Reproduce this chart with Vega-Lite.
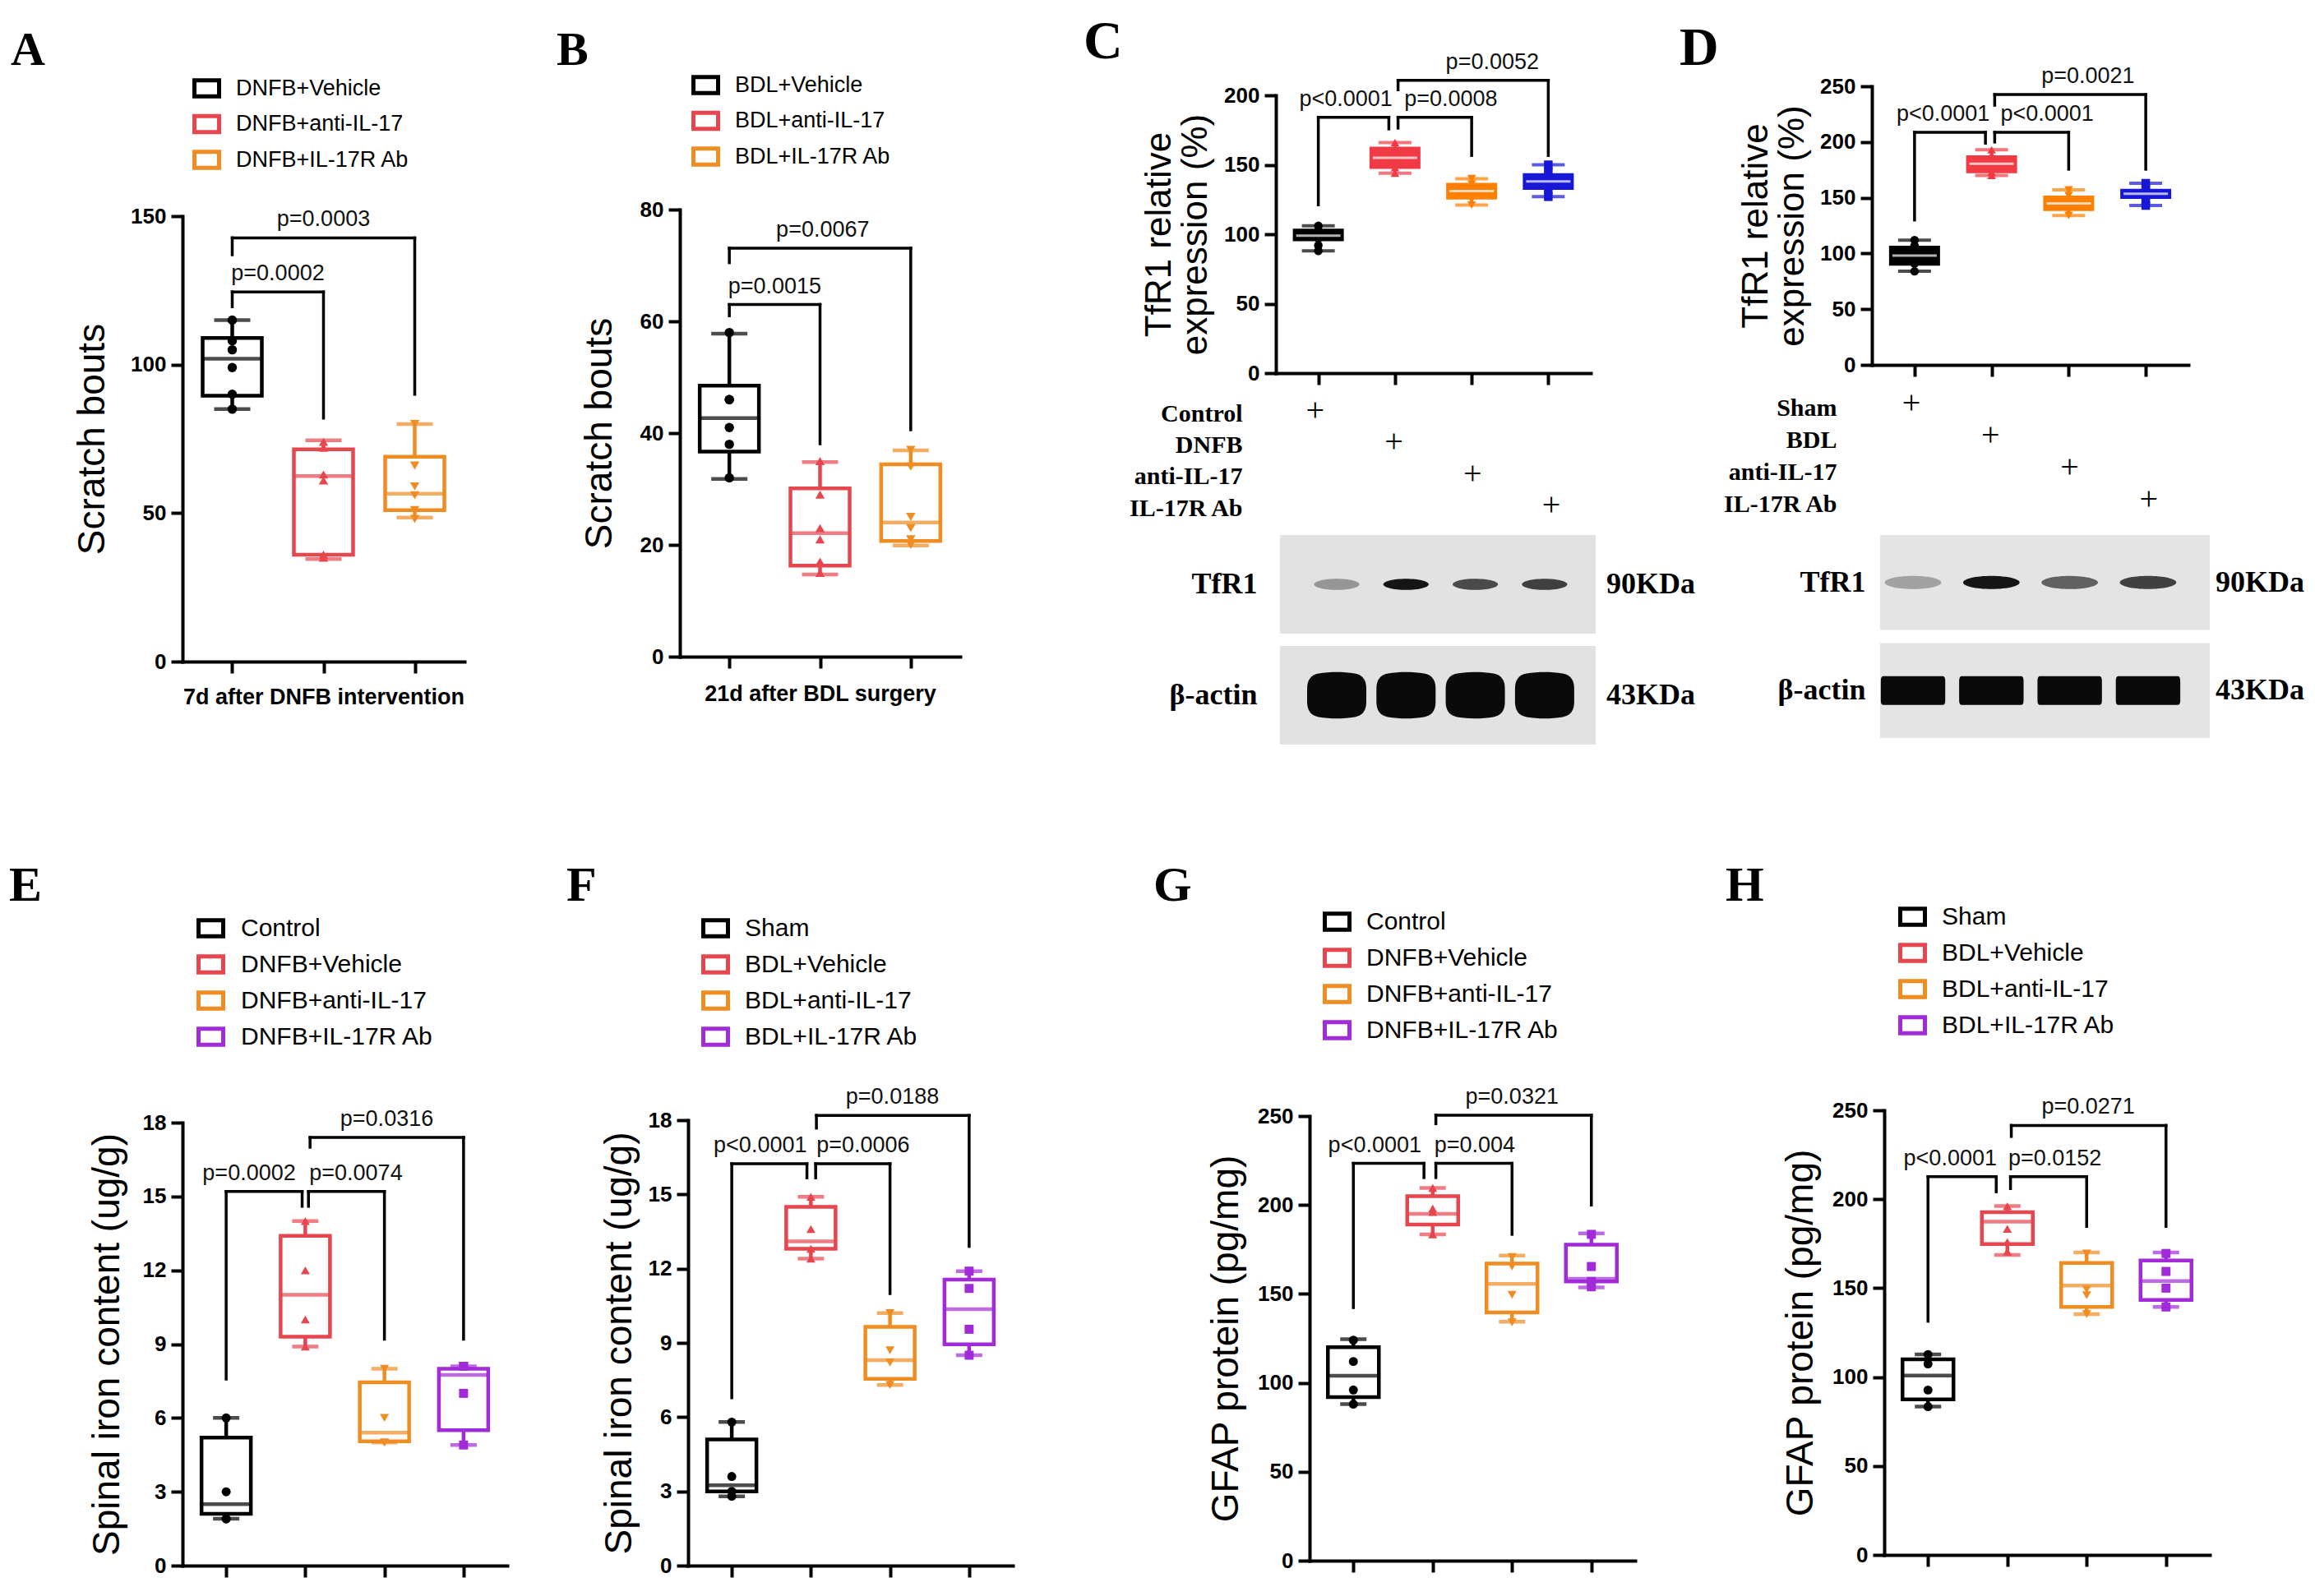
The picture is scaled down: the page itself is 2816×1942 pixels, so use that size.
{
"$schema":"https://vega.github.io/schema/vega-lite/v6.json",
"background":"white",
"padding":{"left":11,"top":17,"right":8,"bottom":8},
"autosize":{"type":"pad"},
"datasets":{
"boxes":[
{"panel":"A","group":"DNFB+Vehicle","idx":1,"min":85,"q1":89.5,"median":102,"q3":109,"max":115},
{"panel":"A","group":"DNFB+anti-IL-17","idx":2,"min":34.5,"q1":36,"median":62.5,"q3":71.5,"max":74.5},
{"panel":"A","group":"DNFB+IL-17R Ab","idx":3,"min":48.5,"q1":51,"median":56.5,"q3":69,"max":80},
{"panel":"B","group":"BDL+Vehicle","idx":1,"min":31.8,"q1":36.7,"median":42.7,"q3":48.5,"max":57.8},
{"panel":"B","group":"BDL+anti-IL-17","idx":2,"min":14.7,"q1":16.3,"median":22.1,"q3":30.1,"max":34.8},
{"panel":"B","group":"BDL+IL-17R Ab","idx":3,"min":19.9,"q1":20.7,"median":24,"q3":34.4,"max":36.9},
{"panel":"C","group":"Control","idx":1,"min":88,"q1":95,"median":99,"q3":104,"max":106},
{"panel":"C","group":"DNFB","idx":2,"min":144,"q1":147,"median":155,"q3":163,"max":166},
{"panel":"C","group":"anti-IL-17","idx":3,"min":121,"q1":125,"median":131,"q3":137,"max":140},
{"panel":"C","group":"IL-17R Ab","idx":4,"min":127,"q1":132,"median":138,"q3":144,"max":150},
{"panel":"D","group":"Sham","idx":1,"min":84,"q1":89,"median":98,"q3":107,"max":112},
{"panel":"D","group":"BDL","idx":2,"min":170,"q1":172,"median":180.5,"q3":188,"max":193},
{"panel":"D","group":"anti-IL-17","idx":3,"min":134,"q1":138,"median":145,"q3":152,"max":157},
{"panel":"D","group":"IL-17R Ab","idx":4,"min":143,"q1":149,"median":153.5,"q3":158,"max":163},
{"panel":"E","group":"Control","idx":1,"min":1.9,"q1":2.1,"median":2.5,"q3":5.2,"max":6},
{"panel":"E","group":"DNFB+Vehicle","idx":2,"min":8.9,"q1":9.3,"median":11,"q3":13.4,"max":14},
{"panel":"E","group":"DNFB+anti-IL-17","idx":3,"min":5,"q1":5.05,"median":5.4,"q3":7.45,"max":8},
{"panel":"E","group":"DNFB+IL-17R Ab","idx":4,"min":4.9,"q1":5.5,"median":7.75,"q3":8,"max":8.1},
{"panel":"F","group":"Sham","idx":1,"min":2.8,"q1":3,"median":3.25,"q3":5.1,"max":5.8},
{"panel":"F","group":"BDL+Vehicle","idx":2,"min":12.4,"q1":12.8,"median":13.1,"q3":14.5,"max":14.9},
{"panel":"F","group":"BDL+anti-IL-17","idx":3,"min":7.3,"q1":7.55,"median":8.3,"q3":9.65,"max":10.2},
{"panel":"F","group":"BDL+IL-17R Ab","idx":4,"min":8.5,"q1":8.94,"median":10.36,"q3":11.56,"max":11.9},
{"panel":"G","group":"Control","idx":1,"min":88,"q1":92,"median":104,"q3":120,"max":124.5},
{"panel":"G","group":"DNFB+Vehicle","idx":2,"min":183.5,"q1":189,"median":195,"q3":205,"max":209.6},
{"panel":"G","group":"DNFB+anti-IL-17","idx":3,"min":134.3,"q1":139.6,"median":155.6,"q3":167,"max":171.5},
{"panel":"G","group":"DNFB+IL-17R Ab","idx":4,"min":153.7,"q1":157,"median":158.5,"q3":177.7,"max":184},
{"panel":"H","group":"Sham","idx":1,"min":83.4,"q1":87.4,"median":100.8,"q3":110,"max":112.7},
{"panel":"H","group":"BDL+Vehicle","idx":2,"min":168.7,"q1":174.8,"median":187.4,"q3":192.7,"max":196.2},
{"panel":"H","group":"BDL+anti-IL-17","idx":3,"min":135.4,"q1":139.4,"median":151.4,"q3":164.2,"max":170},
{"panel":"H","group":"BDL+IL-17R Ab","idx":4,"min":139.4,"q1":143.4,"median":154,"q3":165.5,"max":170}
],
"points":[
{"panel":"A","group":"DNFB+Vehicle","idx":1,"value":115},{"panel":"A","group":"DNFB+Vehicle","idx":1,"value":108},{"panel":"A","group":"DNFB+Vehicle","idx":1,"value":105},{"panel":"A","group":"DNFB+Vehicle","idx":1,"value":99},{"panel":"A","group":"DNFB+Vehicle","idx":1,"value":90},{"panel":"A","group":"DNFB+Vehicle","idx":1,"value":85},
{"panel":"A","group":"DNFB+anti-IL-17","idx":2,"value":74},{"panel":"A","group":"DNFB+anti-IL-17","idx":2,"value":72},{"panel":"A","group":"DNFB+anti-IL-17","idx":2,"value":63},{"panel":"A","group":"DNFB+anti-IL-17","idx":2,"value":61},{"panel":"A","group":"DNFB+anti-IL-17","idx":2,"value":36},{"panel":"A","group":"DNFB+anti-IL-17","idx":2,"value":35},
{"panel":"A","group":"DNFB+IL-17R Ab","idx":3,"value":80},{"panel":"A","group":"DNFB+IL-17R Ab","idx":3,"value":66},{"panel":"A","group":"DNFB+IL-17R Ab","idx":3,"value":59},{"panel":"A","group":"DNFB+IL-17R Ab","idx":3,"value":56},{"panel":"A","group":"DNFB+IL-17R Ab","idx":3,"value":51},{"panel":"A","group":"DNFB+IL-17R Ab","idx":3,"value":48},
{"panel":"B","group":"BDL+Vehicle","idx":1,"value":58},{"panel":"B","group":"BDL+Vehicle","idx":1,"value":46},{"panel":"B","group":"BDL+Vehicle","idx":1,"value":46},{"panel":"B","group":"BDL+Vehicle","idx":1,"value":41},{"panel":"B","group":"BDL+Vehicle","idx":1,"value":38},{"panel":"B","group":"BDL+Vehicle","idx":1,"value":32},
{"panel":"B","group":"BDL+anti-IL-17","idx":2,"value":35},{"panel":"B","group":"BDL+anti-IL-17","idx":2,"value":29},{"panel":"B","group":"BDL+anti-IL-17","idx":2,"value":23},{"panel":"B","group":"BDL+anti-IL-17","idx":2,"value":21},{"panel":"B","group":"BDL+anti-IL-17","idx":2,"value":17},{"panel":"B","group":"BDL+anti-IL-17","idx":2,"value":15},
{"panel":"B","group":"BDL+IL-17R Ab","idx":3,"value":37},{"panel":"B","group":"BDL+IL-17R Ab","idx":3,"value":34},{"panel":"B","group":"BDL+IL-17R Ab","idx":3,"value":25},{"panel":"B","group":"BDL+IL-17R Ab","idx":3,"value":23},{"panel":"B","group":"BDL+IL-17R Ab","idx":3,"value":21},{"panel":"B","group":"BDL+IL-17R Ab","idx":3,"value":20},
{"panel":"C","group":"Control","idx":1,"value":106},{"panel":"C","group":"Control","idx":1,"value":103},{"panel":"C","group":"Control","idx":1,"value":100},{"panel":"C","group":"Control","idx":1,"value":97},{"panel":"C","group":"Control","idx":1,"value":92},{"panel":"C","group":"Control","idx":1,"value":88},
{"panel":"C","group":"DNFB","idx":2,"value":166},{"panel":"C","group":"DNFB","idx":2,"value":162},{"panel":"C","group":"DNFB","idx":2,"value":157},{"panel":"C","group":"DNFB","idx":2,"value":153},{"panel":"C","group":"DNFB","idx":2,"value":148},{"panel":"C","group":"DNFB","idx":2,"value":144},
{"panel":"C","group":"anti-IL-17","idx":3,"value":140},{"panel":"C","group":"anti-IL-17","idx":3,"value":136},{"panel":"C","group":"anti-IL-17","idx":3,"value":132},{"panel":"C","group":"anti-IL-17","idx":3,"value":129},{"panel":"C","group":"anti-IL-17","idx":3,"value":125},{"panel":"C","group":"anti-IL-17","idx":3,"value":121},
{"panel":"C","group":"IL-17R Ab","idx":4,"value":150},{"panel":"C","group":"IL-17R Ab","idx":4,"value":145},{"panel":"C","group":"IL-17R Ab","idx":4,"value":140},{"panel":"C","group":"IL-17R Ab","idx":4,"value":136},{"panel":"C","group":"IL-17R Ab","idx":4,"value":132},{"panel":"C","group":"IL-17R Ab","idx":4,"value":127},
{"panel":"D","group":"Sham","idx":1,"value":112},{"panel":"D","group":"Sham","idx":1,"value":107},{"panel":"D","group":"Sham","idx":1,"value":101},{"panel":"D","group":"Sham","idx":1,"value":97},{"panel":"D","group":"Sham","idx":1,"value":91},{"panel":"D","group":"Sham","idx":1,"value":84},
{"panel":"D","group":"BDL","idx":2,"value":193},{"panel":"D","group":"BDL","idx":2,"value":188},{"panel":"D","group":"BDL","idx":2,"value":183},{"panel":"D","group":"BDL","idx":2,"value":178},{"panel":"D","group":"BDL","idx":2,"value":173},{"panel":"D","group":"BDL","idx":2,"value":170},
{"panel":"D","group":"anti-IL-17","idx":3,"value":157},{"panel":"D","group":"anti-IL-17","idx":3,"value":152},{"panel":"D","group":"anti-IL-17","idx":3,"value":147},{"panel":"D","group":"anti-IL-17","idx":3,"value":143},{"panel":"D","group":"anti-IL-17","idx":3,"value":138},{"panel":"D","group":"anti-IL-17","idx":3,"value":134},
{"panel":"D","group":"IL-17R Ab","idx":4,"value":163},{"panel":"D","group":"IL-17R Ab","idx":4,"value":158},{"panel":"D","group":"IL-17R Ab","idx":4,"value":155},{"panel":"D","group":"IL-17R Ab","idx":4,"value":152},{"panel":"D","group":"IL-17R Ab","idx":4,"value":148},{"panel":"D","group":"IL-17R Ab","idx":4,"value":143},
{"panel":"E","group":"Control","idx":1,"value":6},{"panel":"E","group":"Control","idx":1,"value":3},{"panel":"E","group":"Control","idx":1,"value":1.9},{"panel":"E","group":"Control","idx":1,"value":1.9},
{"panel":"E","group":"DNFB+Vehicle","idx":2,"value":14},{"panel":"E","group":"DNFB+Vehicle","idx":2,"value":12},{"panel":"E","group":"DNFB+Vehicle","idx":2,"value":10},{"panel":"E","group":"DNFB+Vehicle","idx":2,"value":8.9},
{"panel":"E","group":"DNFB+anti-IL-17","idx":3,"value":8},{"panel":"E","group":"DNFB+anti-IL-17","idx":3,"value":6},{"panel":"E","group":"DNFB+anti-IL-17","idx":3,"value":5},{"panel":"E","group":"DNFB+anti-IL-17","idx":3,"value":5},
{"panel":"E","group":"DNFB+IL-17R Ab","idx":4,"value":8.1},{"panel":"E","group":"DNFB+IL-17R Ab","idx":4,"value":8.1},{"panel":"E","group":"DNFB+IL-17R Ab","idx":4,"value":7},{"panel":"E","group":"DNFB+IL-17R Ab","idx":4,"value":4.9},
{"panel":"F","group":"Sham","idx":1,"value":5.8},{"panel":"F","group":"Sham","idx":1,"value":3.6},{"panel":"F","group":"Sham","idx":1,"value":3},{"panel":"F","group":"Sham","idx":1,"value":2.8},
{"panel":"F","group":"BDL+Vehicle","idx":2,"value":14.9},{"panel":"F","group":"BDL+Vehicle","idx":2,"value":13.6},{"panel":"F","group":"BDL+Vehicle","idx":2,"value":12.8},{"panel":"F","group":"BDL+Vehicle","idx":2,"value":12.4},
{"panel":"F","group":"BDL+anti-IL-17","idx":3,"value":10.2},{"panel":"F","group":"BDL+anti-IL-17","idx":3,"value":8.7},{"panel":"F","group":"BDL+anti-IL-17","idx":3,"value":8.2},{"panel":"F","group":"BDL+anti-IL-17","idx":3,"value":7.3},
{"panel":"F","group":"BDL+IL-17R Ab","idx":4,"value":11.9},{"panel":"F","group":"BDL+IL-17R Ab","idx":4,"value":11.2},{"panel":"F","group":"BDL+IL-17R Ab","idx":4,"value":9.55},{"panel":"F","group":"BDL+IL-17R Ab","idx":4,"value":8.5},
{"panel":"G","group":"Control","idx":1,"value":124},{"panel":"G","group":"Control","idx":1,"value":112},{"panel":"G","group":"Control","idx":1,"value":96},{"panel":"G","group":"Control","idx":1,"value":88},
{"panel":"G","group":"DNFB+Vehicle","idx":2,"value":209.6},{"panel":"G","group":"DNFB+Vehicle","idx":2,"value":198},{"panel":"G","group":"DNFB+Vehicle","idx":2,"value":196},{"panel":"G","group":"DNFB+Vehicle","idx":2,"value":183.5},
{"panel":"G","group":"DNFB+anti-IL-17","idx":3,"value":170.7},{"panel":"G","group":"DNFB+anti-IL-17","idx":3,"value":165.4},{"panel":"G","group":"DNFB+anti-IL-17","idx":3,"value":149.5},{"panel":"G","group":"DNFB+anti-IL-17","idx":3,"value":134},
{"panel":"G","group":"DNFB+IL-17R Ab","idx":4,"value":183.5},{"panel":"G","group":"DNFB+IL-17R Ab","idx":4,"value":165.4},{"panel":"G","group":"DNFB+IL-17R Ab","idx":4,"value":157},{"panel":"G","group":"DNFB+IL-17R Ab","idx":4,"value":154},
{"panel":"H","group":"Sham","idx":1,"value":112.7},{"panel":"H","group":"Sham","idx":1,"value":107.4},{"panel":"H","group":"Sham","idx":1,"value":92.7},{"panel":"H","group":"Sham","idx":1,"value":83.4},
{"panel":"H","group":"BDL+Vehicle","idx":2,"value":196},{"panel":"H","group":"BDL+Vehicle","idx":2,"value":183.3},{"panel":"H","group":"BDL+Vehicle","idx":2,"value":176},{"panel":"H","group":"BDL+Vehicle","idx":2,"value":170.5},
{"panel":"H","group":"BDL+anti-IL-17","idx":3,"value":169.5},{"panel":"H","group":"BDL+anti-IL-17","idx":3,"value":149.3},{"panel":"H","group":"BDL+anti-IL-17","idx":3,"value":146},{"panel":"H","group":"BDL+anti-IL-17","idx":3,"value":135.4},
{"panel":"H","group":"BDL+IL-17R Ab","idx":4,"value":169.5},{"panel":"H","group":"BDL+IL-17R Ab","idx":4,"value":159.4},{"panel":"H","group":"BDL+IL-17R Ab","idx":4,"value":150},{"panel":"H","group":"BDL+IL-17R Ab","idx":4,"value":139.4}
],
"brackets":[
{"panel":"A","from":1,"to":2,"y":124.5,"e1":119.5,"e2":82,"xm":1.5,"label":"p=0.0002"},
{"panel":"A","from":1,"to":3,"y":142.7,"e1":137,"e2":90,"xm":2.0,"label":"p=0.0003"},
{"panel":"B","from":1,"to":2,"y":63,"e1":61,"e2":38.1,"xm":1.5,"label":"p=0.0015"},
{"panel":"B","from":1,"to":3,"y":73.1,"e1":70.5,"e2":40.6,"xm":2.03,"label":"p=0.0067"},
{"panel":"C","from":1,"to":1.92,"y":184.2,"e1":121.2,"e2":175.8,"xm":1.36,"label":"p<0.0001"},
{"panel":"C","from":2.04,"to":3,"y":184.2,"e1":176.4,"e2":156.7,"xm":2.73,"label":"p=0.0008"},
{"panel":"C","from":2.04,"to":4,"y":210.8,"e1":204,"e2":156.7,"xm":3.27,"label":"p=0.0052"},
{"panel":"D","from":1,"to":1.92,"y":208.7,"e1":130,"e2":199,"xm":1.37,"label":"p<0.0001"},
{"panel":"D","from":2.04,"to":3,"y":208.7,"e1":200,"e2":175.6,"xm":2.72,"label":"p<0.0001"},
{"panel":"D","from":2.04,"to":4,"y":242.6,"e1":233,"e2":175.6,"xm":3.25,"label":"p=0.0021"},
{"panel":"E","from":1,"to":1.96,"y":15.2,"e1":7.58,"e2":14.6,"xm":1.29,"label":"p=0.0002"},
{"panel":"E","from":2.04,"to":3,"y":15.2,"e1":14.6,"e2":9.2,"xm":2.64,"label":"p=0.0074"},
{"panel":"E","from":2.06,"to":4,"y":17.4,"e1":17.0,"e2":9.2,"xm":3.03,"label":"p=0.0316"},
{"panel":"F","from":1,"to":1.95,"y":16.24,"e1":6.78,"e2":15.67,"xm":1.36,"label":"p<0.0001"},
{"panel":"F","from":2.06,"to":3,"y":16.24,"e1":15.67,"e2":10.99,"xm":2.66,"label":"p=0.0006"},
{"panel":"F","from":2.07,"to":4,"y":18.19,"e1":17.68,"e2":12.9,"xm":3.03,"label":"p=0.0188"},
{"panel":"G","from":1,"to":1.89,"y":223.4,"e1":142.3,"e2":215.4,"xm":1.27,"label":"p<0.0001"},
{"panel":"G","from":2.04,"to":3,"y":223.4,"e1":215.4,"e2":183.5,"xm":2.53,"label":"p=0.004"},
{"panel":"G","from":2.04,"to":4,"y":250.5,"e1":245.7,"e2":200,"xm":3.0,"label":"p=0.0321"},
{"panel":"H","from":1,"to":1.86,"y":212.7,"e1":131.4,"e2":204.2,"xm":1.28,"label":"p<0.0001"},
{"panel":"H","from":2.04,"to":3,"y":212.7,"e1":206,"e2":184.7,"xm":2.6,"label":"p=0.0152"},
{"panel":"H","from":2.05,"to":4,"y":241.5,"e1":235.3,"e2":184.7,"xm":3.02,"label":"p=0.0271"}
],
"table":[
{"panel":"C","row":"Control","idx":1,"sign":"+"},{"panel":"C","row":"DNFB","idx":2,"sign":"+"},{"panel":"C","row":"anti-IL-17","idx":3,"sign":"+"},{"panel":"C","row":"IL-17R Ab","idx":4,"sign":"+"},
{"panel":"D","row":"Sham","idx":1,"sign":"+"},{"panel":"D","row":"BDL","idx":2,"sign":"+"},{"panel":"D","row":"anti-IL-17","idx":3,"sign":"+"},{"panel":"D","row":"IL-17R Ab","idx":4,"sign":"+"}
],
"blots":[
{"panel":"C","protein":"TfR1","lane":1,"intensity":0.35},{"panel":"C","protein":"TfR1","lane":2,"intensity":0.95},{"panel":"C","protein":"TfR1","lane":3,"intensity":0.7},{"panel":"C","protein":"TfR1","lane":4,"intensity":0.75},
{"panel":"C","protein":"β-actin","lane":1,"intensity":1},{"panel":"C","protein":"β-actin","lane":2,"intensity":1},{"panel":"C","protein":"β-actin","lane":3,"intensity":1},{"panel":"C","protein":"β-actin","lane":4,"intensity":1},
{"panel":"D","protein":"TfR1","lane":1,"intensity":0.3},{"panel":"D","protein":"TfR1","lane":2,"intensity":0.95},{"panel":"D","protein":"TfR1","lane":3,"intensity":0.6},{"panel":"D","protein":"TfR1","lane":4,"intensity":0.75},
{"panel":"D","protein":"β-actin","lane":1,"intensity":1},{"panel":"D","protein":"β-actin","lane":2,"intensity":1},{"panel":"D","protein":"β-actin","lane":3,"intensity":1},{"panel":"D","protein":"β-actin","lane":4,"intensity":1}
],
"blotlabels":[
{"panel":"C","protein":"TfR1","kda":"90KDa"},{"panel":"C","protein":"β-actin","kda":"43KDa"},
{"panel":"D","protein":"TfR1","kda":"90KDa"},{"panel":"D","protein":"β-actin","kda":"43KDa"}
]
},
"columns":4,
"spacing":{"row":445,"column":0},
"bounds":"flush",
"resolve":{"scale":{"color":"independent","stroke":"independent","shape":"independent","opacity":"independent"},"legend":{"stroke":"independent","color":"independent","shape":"independent","opacity":"independent"}},
"concat":[
{
"width":605,"height":700,
"title":{"text":"A","dx":-209,"offset":-1,"fontSize":58},
"data":{"name":"boxes"},"transform":[{"filter":"datum.panel==='A'"}],
"encoding":{"x":{"field":"idx","type":"quantitative","scale":{"domain":[0.5,3.5],"range":[0,343],"nice":false,"zero":false},"axis":{"values":[1,2,3],"labels":false,"title":"7d after DNFB intervention","titleFontWeight":"bold","titleFontSize":27,"titlePadding":14}}},
"layer":[
{"mark":{"type":"bar","width":72,"fill":"white","strokeWidth":4.5},"encoding":{"y":{"field":"q1","type":"quantitative","scale":{"domain":[0,150],"range":[700,158],"nice":false,"zero":false},"axis":{"values":[0,50,100,150],"title":"Scratch bouts","titlePadding":22}},"y2":{"field":"q3"},"stroke":{"field":"group","type":"nominal","scale":{"domain":["DNFB+Vehicle","DNFB+anti-IL-17","DNFB+IL-17R Ab"],"range":["#000000","#E8464E","#EF8C22"]},"legend":{"orient":"none","legendX":12,"legendY":-15,"title":null,"symbolType":"M-1,-0.65H1V0.65H-1Z","symbolSize":900,"symbolStrokeWidth":5,"symbolFillColor":"white","labelFontSize":27,"labelOffset":18,"labelLimit":600,"rowPadding":2.5}}}},
{"mark":{"type":"rule","strokeWidth":4.5},"encoding":{"y":{"field":"min","type":"quantitative"},"y2":{"field":"q1"},"color":{"field":"group","type":"nominal","sort":null,"scale":{"range":["#000000","#E8464E","#EF8C22"]},"legend":null}}},
{"mark":{"type":"rule","strokeWidth":4.5},"encoding":{"y":{"field":"q3","type":"quantitative"},"y2":{"field":"max"},"color":{"field":"group","type":"nominal","sort":null,"legend":null}}},
{"mark":{"type":"tick","orient":"horizontal","size":44,"thickness":4.5},"encoding":{"y":{"field":"min","type":"quantitative"},"color":{"field":"group","type":"nominal","sort":null,"legend":null}}},
{"mark":{"type":"tick","orient":"horizontal","size":44,"thickness":4.5},"encoding":{"y":{"field":"max","type":"quantitative"},"color":{"field":"group","type":"nominal","sort":null,"legend":null}}},
{"mark":{"type":"tick","orient":"horizontal","size":72,"thickness":4.5},"encoding":{"y":{"field":"median","type":"quantitative"},"color":{"field":"group","type":"nominal","sort":null,"legend":null}}},
{"data":{"name":"points"},"transform":[{"filter":"datum.panel==='A'"}],"mark":{"type":"point","filled":true,"size":130,"opacity":1},"encoding":{"y":{"field":"value","type":"quantitative"},"color":{"field":"group","type":"nominal","sort":null,"legend":null},"shape":{"field":"group","type":"nominal","sort":null,"scale":{"range":["circle","triangle-up","triangle-down"]},"legend":null}}},
{"data":{"name":"brackets"},"transform":[{"filter":"datum.panel==='A'"}],"mark":{"type":"rule","strokeWidth":3.5,"strokeCap":"square","color":"black"},"encoding":{"x":{"field":"from","type":"quantitative"},"x2":{"field":"to"},"y":{"field":"y","type":"quantitative"}}},
{"data":{"name":"brackets"},"transform":[{"filter":"datum.panel==='A'"}],"mark":{"type":"rule","strokeWidth":3.5,"strokeCap":"square","color":"black"},"encoding":{"x":{"field":"from","type":"quantitative"},"y":{"field":"y","type":"quantitative"},"y2":{"field":"e1"}}},
{"data":{"name":"brackets"},"transform":[{"filter":"datum.panel==='A'"}],"mark":{"type":"rule","strokeWidth":3.5,"strokeCap":"square","color":"black"},"encoding":{"x":{"field":"to","type":"quantitative"},"y":{"field":"y","type":"quantitative"},"y2":{"field":"e2"}}},
{"data":{"name":"brackets"},"transform":[{"filter":"datum.panel==='A'"}],"mark":{"type":"text","fontSize":27,"dy":-14,"baseline":"alphabetic","color":"#111111"},"encoding":{"x":{"field":"xm","type":"quantitative"},"y":{"field":"y","type":"quantitative"},"text":{"field":"label"}}}
]
},
{
"width":725,"height":694,
"title":{"text":"B","dx":-150,"offset":-5,"fontSize":58},
"data":{"name":"boxes"},"transform":[{"filter":"datum.panel==='B'"}],
"encoding":{"x":{"field":"idx","type":"quantitative","scale":{"domain":[0.5,3.5],"range":[0,341],"nice":false,"zero":false},"axis":{"values":[1,2,3],"labels":false,"title":"21d after BDL surgery","titleFontWeight":"bold","titleFontSize":27,"titlePadding":16}}},
"layer":[
{"mark":{"type":"bar","width":72,"fill":"white","strokeWidth":4.5},"encoding":{"y":{"field":"q1","type":"quantitative","scale":{"domain":[0,80],"range":[694,150],"nice":false,"zero":false},"axis":{"values":[0,20,40,60,80],"title":"Scratch bouts","titlePadding":25}},"y2":{"field":"q3"},"stroke":{"field":"group","type":"nominal","scale":{"domain":["BDL+Vehicle","BDL+anti-IL-17","BDL+IL-17R Ab"],"range":["#000000","#E8464E","#EF8C22"]},"legend":{"orient":"none","legendX":14,"legendY":-19,"title":null,"symbolType":"M-1,-0.65H1V0.65H-1Z","symbolSize":900,"symbolStrokeWidth":5,"symbolFillColor":"white","labelFontSize":27,"labelOffset":18,"labelLimit":600,"rowPadding":2.5}}}},
{"mark":{"type":"rule","strokeWidth":4.5},"encoding":{"y":{"field":"min","type":"quantitative"},"y2":{"field":"q1"},"color":{"field":"group","type":"nominal","sort":null,"scale":{"range":["#000000","#E8464E","#EF8C22"]},"legend":null}}},
{"mark":{"type":"rule","strokeWidth":4.5},"encoding":{"y":{"field":"q3","type":"quantitative"},"y2":{"field":"max"},"color":{"field":"group","type":"nominal","sort":null,"legend":null}}},
{"mark":{"type":"tick","orient":"horizontal","size":44,"thickness":4.5},"encoding":{"y":{"field":"min","type":"quantitative"},"color":{"field":"group","type":"nominal","sort":null,"legend":null}}},
{"mark":{"type":"tick","orient":"horizontal","size":44,"thickness":4.5},"encoding":{"y":{"field":"max","type":"quantitative"},"color":{"field":"group","type":"nominal","sort":null,"legend":null}}},
{"mark":{"type":"tick","orient":"horizontal","size":72,"thickness":4.5},"encoding":{"y":{"field":"median","type":"quantitative"},"color":{"field":"group","type":"nominal","sort":null,"legend":null}}},
{"data":{"name":"points"},"transform":[{"filter":"datum.panel==='B'"}],"mark":{"type":"point","filled":true,"size":130,"opacity":1},"encoding":{"y":{"field":"value","type":"quantitative"},"color":{"field":"group","type":"nominal","sort":null,"legend":null},"shape":{"field":"group","type":"nominal","sort":null,"scale":{"range":["circle","triangle-up","triangle-down"]},"legend":null}}},
{"data":{"name":"brackets"},"transform":[{"filter":"datum.panel==='B'"}],"mark":{"type":"rule","strokeWidth":3.5,"strokeCap":"square","color":"black"},"encoding":{"x":{"field":"from","type":"quantitative"},"x2":{"field":"to"},"y":{"field":"y","type":"quantitative"}}},
{"data":{"name":"brackets"},"transform":[{"filter":"datum.panel==='B'"}],"mark":{"type":"rule","strokeWidth":3.5,"strokeCap":"square","color":"black"},"encoding":{"x":{"field":"from","type":"quantitative"},"y":{"field":"y","type":"quantitative"},"y2":{"field":"e1"}}},
{"data":{"name":"brackets"},"transform":[{"filter":"datum.panel==='B'"}],"mark":{"type":"rule","strokeWidth":3.5,"strokeCap":"square","color":"black"},"encoding":{"x":{"field":"to","type":"quantitative"},"y":{"field":"y","type":"quantitative"},"y2":{"field":"e2"}}},
{"data":{"name":"brackets"},"transform":[{"filter":"datum.panel==='B'"}],"mark":{"type":"text","fontSize":27,"dy":-14,"baseline":"alphabetic","color":"#111111"},"encoding":{"x":{"field":"xm","type":"quantitative"},"y":{"field":"y","type":"quantitative"},"text":{"field":"label"}}}
]
},
{
"width":725,"height":801,
"title":{"text":"C","dx":-234,"offset":-23,"fontSize":66},
"resolve":{"scale":{"x":"independent","y":"independent","color":"independent","shape":"independent","opacity":"independent"},"axis":{"x":"independent","y":"independent"}},
"layer":[
{
"data":{"name":"boxes"},"transform":[{"filter":"datum.panel==='C'"}],
"encoding":{"x":{"field":"idx","type":"quantitative","scale":{"domain":[0.5,4.5],"range":[0,383],"nice":false,"zero":false},"axis":{"values":[1,2,3,4],"labels":false,"title":null,"offset":-452}}},
"layer":[
{"mark":{"type":"bar","width":62},"encoding":{"y":{"field":"q1","type":"quantitative","scale":{"domain":[0,200],"range":[349,11],"nice":false,"zero":false},"axis":{"orient":"left","values":[0,50,100,150,200],"title":["TfR1 relative","expression (%)"],"titleFontSize":44,"titleLineHeight":44,"titlePadding":12}},"y2":{"field":"q3"},"color":{"field":"group","type":"nominal","scale":{"domain":["Control","DNFB","anti-IL-17","IL-17R Ab"],"range":["#000000","#F03A44","#FF8000","#1717D6"]},"legend":null}}},
{"mark":{"type":"rule","strokeWidth":4},"encoding":{"y":{"field":"min","type":"quantitative"},"y2":{"field":"q1"},"color":{"field":"group","type":"nominal","legend":null}}},
{"mark":{"type":"rule","strokeWidth":4},"encoding":{"y":{"field":"q3","type":"quantitative"},"y2":{"field":"max"},"color":{"field":"group","type":"nominal","legend":null}}},
{"mark":{"type":"tick","orient":"horizontal","size":40,"thickness":4},"encoding":{"y":{"field":"min","type":"quantitative"},"color":{"field":"group","type":"nominal","legend":null}}},
{"mark":{"type":"tick","orient":"horizontal","size":40,"thickness":4},"encoding":{"y":{"field":"max","type":"quantitative"},"color":{"field":"group","type":"nominal","legend":null}}},
{"data":{"name":"points"},"transform":[{"filter":"datum.panel==='C'"}],"mark":{"type":"point","filled":true,"size":110,"opacity":1},"encoding":{"y":{"field":"value","type":"quantitative"},"color":{"field":"group","type":"nominal","legend":null},"shape":{"field":"group","type":"nominal","scale":{"domain":["Control","DNFB","anti-IL-17","IL-17R Ab"],"range":["circle","triangle-up","triangle-down","square"]},"legend":null}}},
{"mark":{"type":"tick","orient":"horizontal","size":54,"thickness":3,"color":"white"},"encoding":{"y":{"field":"median","type":"quantitative"}}},
{"data":{"name":"brackets"},"transform":[{"filter":"datum.panel==='C'"}],"mark":{"type":"rule","strokeWidth":3.5,"strokeCap":"square","color":"black"},"encoding":{"x":{"field":"from","type":"quantitative"},"x2":{"field":"to"},"y":{"field":"y","type":"quantitative"}}},
{"data":{"name":"brackets"},"transform":[{"filter":"datum.panel==='C'"}],"mark":{"type":"rule","strokeWidth":3.5,"strokeCap":"square","color":"black"},"encoding":{"x":{"field":"from","type":"quantitative"},"y":{"field":"y","type":"quantitative"},"y2":{"field":"e1"}}},
{"data":{"name":"brackets"},"transform":[{"filter":"datum.panel==='C'"}],"mark":{"type":"rule","strokeWidth":3.5,"strokeCap":"square","color":"black"},"encoding":{"x":{"field":"to","type":"quantitative"},"y":{"field":"y","type":"quantitative"},"y2":{"field":"e2"}}},
{"data":{"name":"brackets"},"transform":[{"filter":"datum.panel==='C'"}],"mark":{"type":"text","fontSize":27,"dy":-14,"baseline":"alphabetic","color":"#111111"},"encoding":{"x":{"field":"xm","type":"quantitative"},"y":{"field":"y","type":"quantitative"},"text":{"field":"label"}}}
]
},
{
"data":{"name":"table"},"transform":[{"filter":"datum.panel==='C'"}],
"mark":{"type":"text","font":"Liberation Serif","fontSize":40,"baseline":"middle","dy":-3,"color":"black"},
"encoding":{
"x":{"field":"idx","type":"quantitative","scale":{"domain":[0.5,4.5],"range":[0,383],"nice":false,"zero":false},"axis":null},
"y":{"field":"row","type":"nominal","sort":null,"scale":{"type":"point","domain":["Control","DNFB","anti-IL-17","IL-17R Ab"],"range":[398,513],"padding":0},"axis":{"orient":"left","title":null,"domain":false,"ticks":false,"tickSize":0,"labelFont":"Liberation Serif","labelFontWeight":"bold","labelFontSize":30,"labelPadding":41,"labelColor":"black"}},
"text":{"field":"sign"}
}
},
{
"layer":[
{"data":{"name":"blotlabels"},"transform":[{"filter":"datum.panel==='C'"}],"mark":{"type":"rect","color":"#e2e2e2"},
"encoding":{
"x":{"datum":0.18,"type":"quantitative","scale":{"domain":[0.122,4.737],"range":[0,389],"nice":false,"zero":false},"axis":null},
"x2":{"datum":4.737},
"y":{"field":"protein","type":"nominal","sort":null,"scale":{"domain":["TfR1","β-actin"],"range":[546,801],"paddingInner":0.111,"paddingOuter":0},"axis":{"orient":"left","title":null,"domain":false,"ticks":false,"tickSize":0,"labelFont":"Liberation Serif","labelFontWeight":"bold","labelFontSize":36,"labelPadding":23,"labelColor":"black"}}
}},
{"data":{"name":"blots"},"transform":[{"filter":"datum.panel==='C'"}],"mark":{"type":"point","filled":true,"color":"#0a0a0a","size":6400,"strokeWidth":0},
"encoding":{
"x":{"field":"lane","type":"quantitative","axis":null},
"y":{"field":"protein","type":"nominal","sort":null},
"shape":{"field":"protein","type":"nominal","scale":{"domain":["TfR1","β-actin"],"range":["M-0.69,0A0.69,0.17,0,1,0,0.69,0A0.69,0.17,0,1,0,-0.69,0Z","M-0.55,-0.66C-0.2,-0.72,0.2,-0.72,0.55,-0.66Q0.9,-0.6,0.9,-0.2L0.9,0.2Q0.9,0.6,0.55,0.66C0.2,0.72,-0.2,0.72,-0.55,0.66Q-0.9,0.6,-0.9,0.2L-0.9,-0.2Q-0.9,-0.6,-0.55,-0.66Z"]},"legend":null},
"opacity":{"field":"intensity","type":"quantitative","scale":{"domain":[0,1],"range":[0,1]},"legend":null}
}},
{"data":{"name":"blotlabels"},"transform":[{"filter":"datum.panel==='C'"}],"mark":{"type":"text","align":"left","dx":13,"baseline":"middle","font":"Liberation Serif","fontWeight":"bold","fontSize":36,"color":"black"},
"encoding":{"x":{"datum":4.737,"type":"quantitative","axis":null},"y":{"field":"protein","type":"nominal","sort":null},"text":{"field":"kda"}}}
]
}
]
},
{
"width":411,"height":793,
"title":{"text":"D","dx":-234,"offset":-14,"fontSize":66},
"resolve":{"scale":{"x":"independent","y":"independent","color":"independent","shape":"independent","opacity":"independent"},"axis":{"x":"independent","y":"independent"}},
"layer":[
{
"data":{"name":"boxes"},"transform":[{"filter":"datum.panel==='D'"}],
"encoding":{"x":{"field":"idx","type":"quantitative","scale":{"domain":[0.5,4.5],"range":[0,385],"nice":false,"zero":false},"axis":{"values":[1,2,3,4],"labels":false,"title":null,"offset":-454}}},
"layer":[
{"mark":{"type":"bar","width":62},"encoding":{"y":{"field":"q1","type":"quantitative","scale":{"domain":[0,250],"range":[339,0],"nice":false,"zero":false},"axis":{"orient":"left","values":[0,50,100,150,200,250],"title":["TfR1 relative","expression (%)"],"titleFontSize":44,"titleLineHeight":44,"titlePadding":11}},"y2":{"field":"q3"},"color":{"field":"group","type":"nominal","scale":{"domain":["Sham","BDL","anti-IL-17","IL-17R Ab"],"range":["#000000","#F03A44","#FF8000","#1717D6"]},"legend":null}}},
{"mark":{"type":"rule","strokeWidth":4},"encoding":{"y":{"field":"min","type":"quantitative"},"y2":{"field":"q1"},"color":{"field":"group","type":"nominal","legend":null}}},
{"mark":{"type":"rule","strokeWidth":4},"encoding":{"y":{"field":"q3","type":"quantitative"},"y2":{"field":"max"},"color":{"field":"group","type":"nominal","legend":null}}},
{"mark":{"type":"tick","orient":"horizontal","size":40,"thickness":4},"encoding":{"y":{"field":"min","type":"quantitative"},"color":{"field":"group","type":"nominal","legend":null}}},
{"mark":{"type":"tick","orient":"horizontal","size":40,"thickness":4},"encoding":{"y":{"field":"max","type":"quantitative"},"color":{"field":"group","type":"nominal","legend":null}}},
{"data":{"name":"points"},"transform":[{"filter":"datum.panel==='D'"}],"mark":{"type":"point","filled":true,"size":110,"opacity":1},"encoding":{"y":{"field":"value","type":"quantitative"},"color":{"field":"group","type":"nominal","legend":null},"shape":{"field":"group","type":"nominal","scale":{"domain":["Sham","BDL","anti-IL-17","IL-17R Ab"],"range":["circle","triangle-up","triangle-down","square"]},"legend":null}}},
{"mark":{"type":"tick","orient":"horizontal","size":54,"thickness":3,"color":"white"},"encoding":{"y":{"field":"median","type":"quantitative"}}},
{"data":{"name":"brackets"},"transform":[{"filter":"datum.panel==='D'"}],"mark":{"type":"rule","strokeWidth":3.5,"strokeCap":"square","color":"black"},"encoding":{"x":{"field":"from","type":"quantitative"},"x2":{"field":"to"},"y":{"field":"y","type":"quantitative"}}},
{"data":{"name":"brackets"},"transform":[{"filter":"datum.panel==='D'"}],"mark":{"type":"rule","strokeWidth":3.5,"strokeCap":"square","color":"black"},"encoding":{"x":{"field":"from","type":"quantitative"},"y":{"field":"y","type":"quantitative"},"y2":{"field":"e1"}}},
{"data":{"name":"brackets"},"transform":[{"filter":"datum.panel==='D'"}],"mark":{"type":"rule","strokeWidth":3.5,"strokeCap":"square","color":"black"},"encoding":{"x":{"field":"to","type":"quantitative"},"y":{"field":"y","type":"quantitative"},"y2":{"field":"e2"}}},
{"data":{"name":"brackets"},"transform":[{"filter":"datum.panel==='D'"}],"mark":{"type":"text","fontSize":27,"dy":-14,"baseline":"alphabetic","color":"#111111"},"encoding":{"x":{"field":"xm","type":"quantitative"},"y":{"field":"y","type":"quantitative"},"text":{"field":"label"}}}
]
},
{
"data":{"name":"table"},"transform":[{"filter":"datum.panel==='D'"}],
"mark":{"type":"text","font":"Liberation Serif","fontSize":40,"baseline":"middle","dy":-5,"color":"black"},
"encoding":{
"x":{"field":"idx","type":"quantitative","scale":{"domain":[0.5,4.5],"range":[0,385],"nice":false,"zero":false},"axis":null},
"y":{"field":"row","type":"nominal","sort":null,"scale":{"type":"point","domain":["Sham","BDL","anti-IL-17","IL-17R Ab"],"range":[391,508],"padding":0},"axis":{"orient":"left","title":null,"domain":false,"ticks":false,"tickSize":0,"labelFont":"Liberation Serif","labelFontWeight":"bold","labelFontSize":30,"labelPadding":43,"labelColor":"black"}},
"text":{"field":"sign"}
}
},
{
"layer":[
{"data":{"name":"blotlabels"},"transform":[{"filter":"datum.panel==='D'"}],"mark":{"type":"rect","color":"#e4e4e4"},
"encoding":{
"x":{"datum":0.58,"type":"quantitative","scale":{"domain":[0.475,4.788],"range":[0,411],"nice":false,"zero":false},"axis":null},
"x2":{"datum":4.788},
"y":{"field":"protein","type":"nominal","sort":null,"scale":{"domain":["TfR1","β-actin"],"range":[546,793],"paddingInner":0.1217,"paddingOuter":0},"axis":{"orient":"left","title":null,"domain":false,"ticks":false,"tickSize":0,"labelFont":"Liberation Serif","labelFontWeight":"bold","labelFontSize":36,"labelPadding":8,"labelColor":"black"}}
}},
{"data":{"name":"blots"},"transform":[{"filter":"datum.panel==='D'"}],"mark":{"type":"point","filled":true,"color":"#0a0a0a","size":6400,"strokeWidth":0},
"encoding":{
"x":{"field":"lane","type":"quantitative","axis":null},
"y":{"field":"protein","type":"nominal","sort":null},
"shape":{"field":"protein","type":"nominal","scale":{"domain":["TfR1","β-actin"],"range":["M-0.86,0A0.86,0.2,0,1,0,0.86,0A0.86,0.2,0,1,0,-0.86,0Z","M-0.9,-0.44L0.9,-0.44Q0.98,-0.44,0.98,-0.3L0.98,0.3Q0.98,0.44,0.9,0.44L-0.9,0.44Q-0.98,0.44,-0.98,0.3L-0.98,-0.3Q-0.98,-0.44,-0.9,-0.44Z"]},"legend":null},
"opacity":{"field":"intensity","type":"quantitative","scale":{"domain":[0,1],"range":[0,1]},"legend":null}
}},
{"data":{"name":"blotlabels"},"transform":[{"filter":"datum.panel==='D'"}],"mark":{"type":"text","align":"left","dx":7,"baseline":"middle","font":"Liberation Serif","fontWeight":"bold","fontSize":36,"color":"black"},
"encoding":{"x":{"datum":4.788,"type":"quantitative","axis":null},"y":{"field":"protein","type":"nominal","sort":null},"text":{"field":"kda"}}}
]
}
]
},
{
"width":605,"height":554,
"title":{"text":"E","dx":-211,"offset":3,"fontSize":60},
"data":{"name":"boxes"},"transform":[{"filter":"datum.panel==='E'"}],
"encoding":{"x":{"field":"idx","type":"quantitative","scale":{"domain":[0.5,4.5],"range":[0,395],"nice":false,"zero":false},"axis":{"values":[1,2,3,4],"labels":false,"title":null}}},
"layer":[
{"mark":{"type":"bar","width":60,"fill":"white","strokeWidth":4.5},"encoding":{"y":{"field":"q1","type":"quantitative","scale":{"domain":[0,18],"range":[554,15],"nice":false,"zero":false},"axis":{"values":[0,3,6,9,12,15,18],"title":"Spinal iron content (ug/g)","titlePadding":19}},"y2":{"field":"q3"},"stroke":{"field":"group","type":"nominal","scale":{"domain":["Control","DNFB+Vehicle","DNFB+anti-IL-17","DNFB+IL-17R Ab"],"range":["#000000","#E8464E","#EF8C22","#A22BD9"]},"legend":{"orient":"none","legendX":17,"legendY":-239,"title":null,"symbolType":"M-1,-0.65H1V0.65H-1Z","symbolSize":900,"symbolStrokeWidth":5,"symbolFillColor":"white","labelFontSize":30,"labelOffset":19,"labelLimit":600,"rowPadding":3}}}},
{"mark":{"type":"rule","strokeWidth":4.5},"encoding":{"y":{"field":"min","type":"quantitative"},"y2":{"field":"q1"},"color":{"field":"group","type":"nominal","sort":null,"scale":{"range":["#000000","#E8464E","#EF8C22","#A22BD9"]},"legend":null}}},
{"mark":{"type":"rule","strokeWidth":4.5},"encoding":{"y":{"field":"q3","type":"quantitative"},"y2":{"field":"max"},"color":{"field":"group","type":"nominal","sort":null,"legend":null}}},
{"mark":{"type":"tick","orient":"horizontal","size":32,"thickness":4.5},"encoding":{"y":{"field":"min","type":"quantitative"},"color":{"field":"group","type":"nominal","sort":null,"legend":null}}},
{"mark":{"type":"tick","orient":"horizontal","size":32,"thickness":4.5},"encoding":{"y":{"field":"max","type":"quantitative"},"color":{"field":"group","type":"nominal","sort":null,"legend":null}}},
{"mark":{"type":"tick","orient":"horizontal","size":60,"thickness":4.5},"encoding":{"y":{"field":"median","type":"quantitative"},"color":{"field":"group","type":"nominal","sort":null,"legend":null}}},
{"data":{"name":"points"},"transform":[{"filter":"datum.panel==='E'"}],"mark":{"type":"point","filled":true,"size":120,"opacity":1},"encoding":{"y":{"field":"value","type":"quantitative"},"color":{"field":"group","type":"nominal","sort":null,"legend":null},"shape":{"field":"group","type":"nominal","sort":null,"scale":{"range":["circle","triangle-up","triangle-down","square"]},"legend":null}}},
{"data":{"name":"brackets"},"transform":[{"filter":"datum.panel==='E'"}],"mark":{"type":"rule","strokeWidth":3.5,"strokeCap":"square","color":"black"},"encoding":{"x":{"field":"from","type":"quantitative"},"x2":{"field":"to"},"y":{"field":"y","type":"quantitative"}}},
{"data":{"name":"brackets"},"transform":[{"filter":"datum.panel==='E'"}],"mark":{"type":"rule","strokeWidth":3.5,"strokeCap":"square","color":"black"},"encoding":{"x":{"field":"from","type":"quantitative"},"y":{"field":"y","type":"quantitative"},"y2":{"field":"e1"}}},
{"data":{"name":"brackets"},"transform":[{"filter":"datum.panel==='E'"}],"mark":{"type":"rule","strokeWidth":3.5,"strokeCap":"square","color":"black"},"encoding":{"x":{"field":"to","type":"quantitative"},"y":{"field":"y","type":"quantitative"},"y2":{"field":"e2"}}},
{"data":{"name":"brackets"},"transform":[{"filter":"datum.panel==='E'"}],"mark":{"type":"text","fontSize":27,"dy":-14,"baseline":"alphabetic","color":"#111111"},"encoding":{"x":{"field":"xm","type":"quantitative"},"y":{"field":"y","type":"quantitative"},"text":{"field":"label"}}}
]
},
{
"width":725,"height":554,
"title":{"text":"F","dx":-138,"offset":3,"fontSize":60},
"data":{"name":"boxes"},"transform":[{"filter":"datum.panel==='F'"}],
"encoding":{"x":{"field":"idx","type":"quantitative","scale":{"domain":[0.5,4.5],"range":[10,405],"nice":false,"zero":false},"axis":{"values":[1,2,3,4],"labels":false,"title":null}}},
"layer":[
{"mark":{"type":"bar","width":60,"fill":"white","strokeWidth":4.5},"encoding":{"y":{"field":"q1","type":"quantitative","scale":{"domain":[0,18],"range":[554,12],"nice":false,"zero":false},"axis":{"values":[0,3,6,9,12,15,18],"title":"Spinal iron content (ug/g)","titlePadding":11,"offset":-10}},"y2":{"field":"q3"},"stroke":{"field":"group","type":"nominal","scale":{"domain":["Sham","BDL+Vehicle","BDL+anti-IL-17","BDL+IL-17R Ab"],"range":["#000000","#E8464E","#EF8C22","#A22BD9"]},"legend":{"orient":"none","legendX":26,"legendY":-239,"title":null,"symbolType":"M-1,-0.65H1V0.65H-1Z","symbolSize":900,"symbolStrokeWidth":5,"symbolFillColor":"white","labelFontSize":30,"labelOffset":18,"labelLimit":600,"rowPadding":3}}}},
{"mark":{"type":"rule","strokeWidth":4.5},"encoding":{"y":{"field":"min","type":"quantitative"},"y2":{"field":"q1"},"color":{"field":"group","type":"nominal","sort":null,"scale":{"range":["#000000","#E8464E","#EF8C22","#A22BD9"]},"legend":null}}},
{"mark":{"type":"rule","strokeWidth":4.5},"encoding":{"y":{"field":"q3","type":"quantitative"},"y2":{"field":"max"},"color":{"field":"group","type":"nominal","sort":null,"legend":null}}},
{"mark":{"type":"tick","orient":"horizontal","size":32,"thickness":4.5},"encoding":{"y":{"field":"min","type":"quantitative"},"color":{"field":"group","type":"nominal","sort":null,"legend":null}}},
{"mark":{"type":"tick","orient":"horizontal","size":32,"thickness":4.5},"encoding":{"y":{"field":"max","type":"quantitative"},"color":{"field":"group","type":"nominal","sort":null,"legend":null}}},
{"mark":{"type":"tick","orient":"horizontal","size":60,"thickness":4.5},"encoding":{"y":{"field":"median","type":"quantitative"},"color":{"field":"group","type":"nominal","sort":null,"legend":null}}},
{"data":{"name":"points"},"transform":[{"filter":"datum.panel==='F'"}],"mark":{"type":"point","filled":true,"size":120,"opacity":1},"encoding":{"y":{"field":"value","type":"quantitative"},"color":{"field":"group","type":"nominal","sort":null,"legend":null},"shape":{"field":"group","type":"nominal","sort":null,"scale":{"range":["circle","triangle-up","triangle-down","square"]},"legend":null}}},
{"data":{"name":"brackets"},"transform":[{"filter":"datum.panel==='F'"}],"mark":{"type":"rule","strokeWidth":3.5,"strokeCap":"square","color":"black"},"encoding":{"x":{"field":"from","type":"quantitative"},"x2":{"field":"to"},"y":{"field":"y","type":"quantitative"}}},
{"data":{"name":"brackets"},"transform":[{"filter":"datum.panel==='F'"}],"mark":{"type":"rule","strokeWidth":3.5,"strokeCap":"square","color":"black"},"encoding":{"x":{"field":"from","type":"quantitative"},"y":{"field":"y","type":"quantitative"},"y2":{"field":"e1"}}},
{"data":{"name":"brackets"},"transform":[{"filter":"datum.panel==='F'"}],"mark":{"type":"rule","strokeWidth":3.5,"strokeCap":"square","color":"black"},"encoding":{"x":{"field":"to","type":"quantitative"},"y":{"field":"y","type":"quantitative"},"y2":{"field":"e2"}}},
{"data":{"name":"brackets"},"transform":[{"filter":"datum.panel==='F'"}],"mark":{"type":"text","fontSize":27,"dy":-14,"baseline":"alphabetic","color":"#111111"},"encoding":{"x":{"field":"xm","type":"quantitative"},"y":{"field":"y","type":"quantitative"},"text":{"field":"label"}}}
]
},
{
"width":725,"height":548,
"title":{"text":"G","dx":-149,"offset":-5,"fontSize":60},
"data":{"name":"boxes"},"transform":[{"filter":"datum.panel==='G'"}],
"encoding":{"x":{"field":"idx","type":"quantitative","scale":{"domain":[0.5,4.5],"range":[41,437],"nice":false,"zero":false},"axis":{"values":[1,2,3,4],"labels":false,"title":null}}},
"layer":[
{"mark":{"type":"bar","width":62,"fill":"white","strokeWidth":4.5},"encoding":{"y":{"field":"q1","type":"quantitative","scale":{"domain":[0,250],"range":[548,7],"nice":false,"zero":false},"axis":{"values":[0,50,100,150,200,250],"title":"GFAP protein (pg/mg)","titlePadding":14,"offset":-41}},"y2":{"field":"q3"},"stroke":{"field":"group","type":"nominal","scale":{"domain":["Control","DNFB+Vehicle","DNFB+anti-IL-17","DNFB+IL-17R Ab"],"range":["#000000","#E8464E","#EF8C22","#A22BD9"]},"legend":{"orient":"none","legendX":57,"legendY":-247,"title":null,"symbolType":"M-1,-0.65H1V0.65H-1Z","symbolSize":900,"symbolStrokeWidth":5,"symbolFillColor":"white","labelFontSize":30,"labelOffset":18,"labelLimit":600,"rowPadding":3}}}},
{"mark":{"type":"rule","strokeWidth":4.5},"encoding":{"y":{"field":"min","type":"quantitative"},"y2":{"field":"q1"},"color":{"field":"group","type":"nominal","sort":null,"scale":{"range":["#000000","#E8464E","#EF8C22","#A22BD9"]},"legend":null}}},
{"mark":{"type":"rule","strokeWidth":4.5},"encoding":{"y":{"field":"q3","type":"quantitative"},"y2":{"field":"max"},"color":{"field":"group","type":"nominal","sort":null,"legend":null}}},
{"mark":{"type":"tick","orient":"horizontal","size":32,"thickness":4.5},"encoding":{"y":{"field":"min","type":"quantitative"},"color":{"field":"group","type":"nominal","sort":null,"legend":null}}},
{"mark":{"type":"tick","orient":"horizontal","size":32,"thickness":4.5},"encoding":{"y":{"field":"max","type":"quantitative"},"color":{"field":"group","type":"nominal","sort":null,"legend":null}}},
{"mark":{"type":"tick","orient":"horizontal","size":62,"thickness":4.5},"encoding":{"y":{"field":"median","type":"quantitative"},"color":{"field":"group","type":"nominal","sort":null,"legend":null}}},
{"data":{"name":"points"},"transform":[{"filter":"datum.panel==='G'"}],"mark":{"type":"point","filled":true,"size":120,"opacity":1},"encoding":{"y":{"field":"value","type":"quantitative"},"color":{"field":"group","type":"nominal","sort":null,"legend":null},"shape":{"field":"group","type":"nominal","sort":null,"scale":{"range":["circle","triangle-up","triangle-down","square"]},"legend":null}}},
{"data":{"name":"brackets"},"transform":[{"filter":"datum.panel==='G'"}],"mark":{"type":"rule","strokeWidth":3.5,"strokeCap":"square","color":"black"},"encoding":{"x":{"field":"from","type":"quantitative"},"x2":{"field":"to"},"y":{"field":"y","type":"quantitative"}}},
{"data":{"name":"brackets"},"transform":[{"filter":"datum.panel==='G'"}],"mark":{"type":"rule","strokeWidth":3.5,"strokeCap":"square","color":"black"},"encoding":{"x":{"field":"from","type":"quantitative"},"y":{"field":"y","type":"quantitative"},"y2":{"field":"e1"}}},
{"data":{"name":"brackets"},"transform":[{"filter":"datum.panel==='G'"}],"mark":{"type":"rule","strokeWidth":3.5,"strokeCap":"square","color":"black"},"encoding":{"x":{"field":"to","type":"quantitative"},"y":{"field":"y","type":"quantitative"},"y2":{"field":"e2"}}},
{"data":{"name":"brackets"},"transform":[{"filter":"datum.panel==='G'"}],"mark":{"type":"text","fontSize":27,"dy":-14,"baseline":"alphabetic","color":"#111111"},"encoding":{"x":{"field":"xm","type":"quantitative"},"y":{"field":"y","type":"quantitative"},"text":{"field":"label"}}}
]
},
{
"width":411,"height":541,
"title":{"text":"H","dx":-178,"offset":-11,"fontSize":60},
"data":{"name":"boxes"},"transform":[{"filter":"datum.panel==='H'"}],
"encoding":{"x":{"field":"idx","type":"quantitative","scale":{"domain":[0.5,4.5],"range":[15,411],"nice":false,"zero":false},"axis":{"values":[1,2,3,4],"labels":false,"title":null}}},
"layer":[
{"mark":{"type":"bar","width":62,"fill":"white","strokeWidth":4.5},"encoding":{"y":{"field":"q1","type":"quantitative","scale":{"domain":[0,250],"range":[541,0],"nice":false,"zero":false},"axis":{"values":[0,50,100,150,200,250],"title":"GFAP protein (pg/mg)","titlePadding":14,"offset":-15}},"y2":{"field":"q3"},"stroke":{"field":"group","type":"nominal","scale":{"domain":["Sham","BDL+Vehicle","BDL+anti-IL-17","BDL+IL-17R Ab"],"range":["#000000","#E8464E","#EF8C22","#A22BD9"]},"legend":{"orient":"none","legendX":32,"legendY":-253,"title":null,"symbolType":"M-1,-0.65H1V0.65H-1Z","symbolSize":900,"symbolStrokeWidth":5,"symbolFillColor":"white","labelFontSize":30,"labelOffset":18,"labelLimit":600,"rowPadding":3}}}},
{"mark":{"type":"rule","strokeWidth":4.5},"encoding":{"y":{"field":"min","type":"quantitative"},"y2":{"field":"q1"},"color":{"field":"group","type":"nominal","sort":null,"scale":{"range":["#000000","#E8464E","#EF8C22","#A22BD9"]},"legend":null}}},
{"mark":{"type":"rule","strokeWidth":4.5},"encoding":{"y":{"field":"q3","type":"quantitative"},"y2":{"field":"max"},"color":{"field":"group","type":"nominal","sort":null,"legend":null}}},
{"mark":{"type":"tick","orient":"horizontal","size":32,"thickness":4.5},"encoding":{"y":{"field":"min","type":"quantitative"},"color":{"field":"group","type":"nominal","sort":null,"legend":null}}},
{"mark":{"type":"tick","orient":"horizontal","size":32,"thickness":4.5},"encoding":{"y":{"field":"max","type":"quantitative"},"color":{"field":"group","type":"nominal","sort":null,"legend":null}}},
{"mark":{"type":"tick","orient":"horizontal","size":62,"thickness":4.5},"encoding":{"y":{"field":"median","type":"quantitative"},"color":{"field":"group","type":"nominal","sort":null,"legend":null}}},
{"data":{"name":"points"},"transform":[{"filter":"datum.panel==='H'"}],"mark":{"type":"point","filled":true,"size":120,"opacity":1},"encoding":{"y":{"field":"value","type":"quantitative"},"color":{"field":"group","type":"nominal","sort":null,"legend":null},"shape":{"field":"group","type":"nominal","sort":null,"scale":{"range":["circle","triangle-up","triangle-down","square"]},"legend":null}}},
{"data":{"name":"brackets"},"transform":[{"filter":"datum.panel==='H'"}],"mark":{"type":"rule","strokeWidth":3.5,"strokeCap":"square","color":"black"},"encoding":{"x":{"field":"from","type":"quantitative"},"x2":{"field":"to"},"y":{"field":"y","type":"quantitative"}}},
{"data":{"name":"brackets"},"transform":[{"filter":"datum.panel==='H'"}],"mark":{"type":"rule","strokeWidth":3.5,"strokeCap":"square","color":"black"},"encoding":{"x":{"field":"from","type":"quantitative"},"y":{"field":"y","type":"quantitative"},"y2":{"field":"e1"}}},
{"data":{"name":"brackets"},"transform":[{"filter":"datum.panel==='H'"}],"mark":{"type":"rule","strokeWidth":3.5,"strokeCap":"square","color":"black"},"encoding":{"x":{"field":"to","type":"quantitative"},"y":{"field":"y","type":"quantitative"},"y2":{"field":"e2"}}},
{"data":{"name":"brackets"},"transform":[{"filter":"datum.panel==='H'"}],"mark":{"type":"text","fontSize":27,"dy":-14,"baseline":"alphabetic","color":"#111111"},"encoding":{"x":{"field":"xm","type":"quantitative"},"y":{"field":"y","type":"quantitative"},"text":{"field":"label"}}}
]
}
],
"config":{
"view":{"stroke":null},
"font":"Liberation Sans",
"axis":{"domainColor":"black","domainWidth":4,"domainCap":"square","tickColor":"black","tickWidth":4,"tickSize":14,"labelFont":"Liberation Sans","labelFontWeight":"bold","labelFontSize":26,"labelColor":"black","labelPadding":6,"grid":false,"titleFont":"Liberation Sans","titleFontWeight":"normal","titleFontSize":46,"titleColor":"black"},
"legend":{"labelFont":"Liberation Sans","labelColor":"black","padding":0},
"title":{"font":"Liberation Serif","fontWeight":"bold","color":"black","anchor":"start","frame":"group"},
"text":{"font":"Liberation Sans"}
}
}
